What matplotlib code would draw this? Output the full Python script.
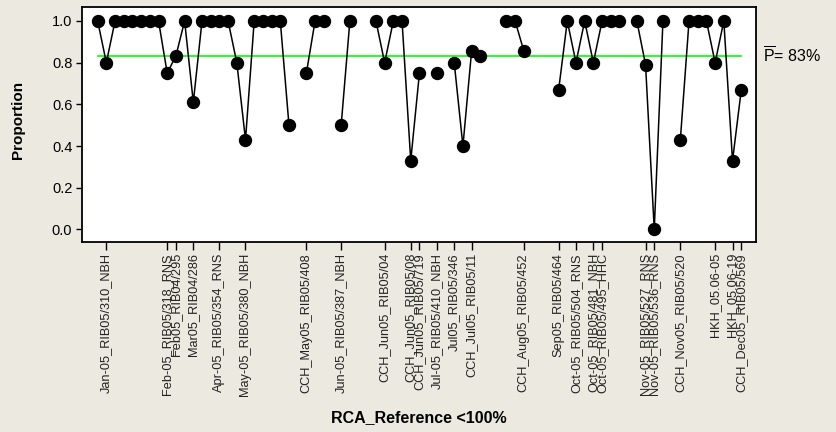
import numpy as np
import matplotlib
matplotlib.use("Agg")
import matplotlib.pyplot as plt

# Proportion of RCA references per sample (NaN = no sample in that slot)
proportion = [
    1.0, 0.8, 1.0, 1.0, 1.0, 1.0, 1.0, 1.0, 0.75, 0.833,
    1.0, 0.61, 1.0, 1.0, 1.0, 1.0, 0.8, 0.43, 1.0, 1.0,
    1.0, 1.0, 0.5, np.nan, 0.75, 1.0, 1.0, np.nan, 0.5, 1.0,
    np.nan, np.nan, 1.0, 0.8, 1.0, 1.0, 0.33, 0.75, np.nan, 0.75,
    np.nan, 0.8, 0.4, 0.857, 0.833, np.nan, np.nan, 1.0, 1.0, 0.857,
    np.nan, np.nan, np.nan, 0.667, 1.0, 0.8, 1.0, 0.8, 1.0, 1.0,
    1.0, np.nan, 1.0, 0.79, 0.0, 1.0, np.nan, 0.43, 1.0, 1.0,
    1.0, 0.8, 1.0, 0.33, 0.667,
]

# Labelled reference positions along the sample axis
tick_positions = [1, 8, 9, 11, 14, 17, 24, 28, 33, 36, 37, 39, 41, 43,
                  49, 53, 55, 57, 58, 63, 64, 67, 71, 73, 74]
tick_labels = [
    "Jan-05_RIB05/310_NBH", "Feb-05_RIB05/318_RNS", "Feb05_RIB04/295",
    "Mar05_RIB04/286", "Apr-05_RIB05/354_RNS", "May-05_RIB05/380_NBH",
    "CCH_May05_RIB05/408", "Jun-05_RIB05/387_NBH", "CCH_Jun05_RIB05/04",
    "CCH_Jun05_RIB05/08", "CCH_Jun05_RIB05/719", "Jul-05_RIB05/410_NBH",
    "Jul05_RIB05/346", "CCH_Jul05_RIB05/11", "CCH_Aug05_RIB05/452",
    "Sep05_RIB05/464", "Oct-05_RIB05/504_RNS", "Oct-05_RIB05/481_NBH",
    "Oct-05_RIB05/495_HHC", "Nov-05_RIB05/527_RNS", "Nov-05_RIB05/536_RNS",
    "CCH_Nov05_RIB05/520", "HKH_05.06-05", "HKH_05.06-19",
    "CCH_Dec05_RIB05/569",
]
y_ticks = [0.0, 0.2, 0.4, 0.6, 0.8, 1.0]
p_bar = 0.833

plt.rcParams["mathtext.fontset"] = "custom"
plt.rcParams["mathtext.rm"] = "Liberation Sans"
plt.rcParams["font.family"] = ["Liberation Sans", "DejaVu Sans"]

bg = "#ECE9E0"
fig = plt.figure(figsize=(8.37, 4.32), dpi=100, facecolor=bg)
ax = fig.add_axes([82 / 837, 1 - 242 / 432, (756 - 82) / 837, (242 - 7) / 432])
ax.set_facecolor("white")

x = np.arange(len(proportion))
ax.plot(x, proportion, color="black", lw=1.1, marker="o", ms=8.6,
        mec="black", mfc="black", zorder=3)
ax.plot([x[0], x[-1]], [p_bar, p_bar], color="#00FF00", lw=1.2, zorder=2)

ax.set_xlim(-1.8, 75.7)
ax.set_ylim(-0.06, 1.067)
ax.set_yticks(y_ticks)
ax.set_yticklabels([f"{v:.1f}" for v in y_ticks], fontsize=10.5)
ax.set_xticks(tick_positions)
ax.set_xticklabels(tick_labels, rotation=90, fontsize=9.2, color="#222222",
                   family=["Liberation Sans Narrow", "Liberation Sans"])
ax.tick_params(axis="x", direction="out", length=6, width=1, pad=2, colors="black")
ax.tick_params(axis="y", direction="out", length=4, width=1, pad=3, colors="black")
for lbl in ax.get_xticklabels():
    lbl.set_color("#222222")
for s in ax.spines.values():
    s.set_linewidth(1.3)
    s.set_color("black")

ax.text(1.01, p_bar, r"$\overline{\mathrm{P}}$" + f"= {p_bar * 100:.0f}%",
        transform=ax.get_yaxis_transform(), fontsize=11.5, va="center", ha="left")

fig.text(419 / 837, 1 - 418 / 432, "RCA_Reference <100%", fontsize=11.5,
         fontweight="bold", ha="center", va="center")
fig.text(18 / 837, 1 - 120 / 432, "Proportion", fontsize=11, fontweight="bold",
         rotation=90, ha="center", va="center")

fig.savefig("out.png", dpi=100, facecolor=bg)
